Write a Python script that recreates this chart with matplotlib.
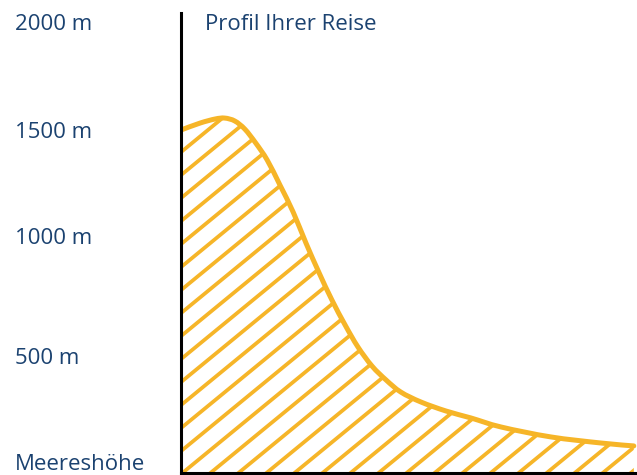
import numpy as np
import matplotlib.pyplot as plt
from matplotlib.path import Path
from matplotlib.patches import PathPatch
from matplotlib.transforms import ScaledTranslation

# profile of the trip: distance (arbitrary units) vs altitude in metres
distance = [0, 4.2, 7.5, 9.6, 11.8, 14.0, 16.4, 18.9, 21.7, 24.6, 27.4, 30.3,
            33.1, 36.0, 38.8, 41.9, 45.0, 48.2, 52.6, 58.1, 63.6, 70.2, 81.1,
            92.1, 99.3]
altitude = [1521, 1552, 1570, 1574, 1561, 1525, 1463, 1388, 1277, 1157, 1020,
            887, 767, 656, 559, 474, 412, 359, 315, 275, 244, 204, 160, 133, 120]

tick_values = [0, 500, 1000, 1500, 2000]
tick_labels = ["Meereshöhe", "500 m", "1000 m", "1500 m", "2000 m"]
# small vertical nudges (points) so the labels sit where the original has them
label_nudge = [8, 3, 8.5, 3.5, 0]

yellow = "#F6B528"
navy = "#1B4270"

plt.rcParams['font.family'] = ['Open Sans', 'DejaVu Sans']


def smooth_path(xs, ys, closed_bottom=False):
    # Catmull-Rom through the points, written as cubic bezier segments
    pts = np.column_stack([xs, ys]).astype(float)
    verts = [pts[0]]
    codes = [Path.MOVETO]
    n = len(pts)
    for i in range(n - 1):
        p0 = pts[max(i - 1, 0)]
        p1 = pts[i]
        p2 = pts[i + 1]
        p3 = pts[min(i + 2, n - 1)]
        verts += [p1 + (p2 - p0) / 6, p2 - (p3 - p1) / 6, p2]
        codes += [Path.CURVE4] * 3
    if closed_bottom:
        verts += [(xs[-1], 0), (xs[0], 0), pts[0]]
        codes += [Path.LINETO, Path.LINETO, Path.CLOSEPOLY]
    return Path(verts, codes)


fig = plt.figure(figsize=(6.37, 4.75), dpi=100)
ax = fig.add_axes([181 / 637, 2 / 475, 456 / 637, 460 / 475])
ax.set_xlim(0, 100)
ax.set_ylim(0, 2040)

# area under the curve, used to clip the hatch lines
area = PathPatch(smooth_path(distance, altitude, closed_bottom=True),
                 facecolor="none", edgecolor="none", transform=ax.transData)
ax.add_patch(area)

# diagonal hatching
slope = 16.6
for b in np.arange(1423 - 102 * 40, 1600, 102):
    ln, = ax.plot([0, 100], [b, b + slope * 100], color=yellow, lw=2.7,
                  solid_capstyle="butt")
    ln.set_clip_path(area)

ax.add_patch(PathPatch(smooth_path(distance, altitude), facecolor="none",
                       edgecolor=yellow, lw=3.6, capstyle="round",
                       joinstyle="round"))

for s in ["top", "right"]:
    ax.spines[s].set_visible(False)
ax.spines["left"].set_linewidth(2.2)
ax.spines["bottom"].set_linewidth(2.2)

ax.set_xticks([])
ax.set_yticks(tick_values)
ax.set_yticklabels(tick_labels, fontsize=16, color=navy, ha="left")
ax.tick_params(axis="y", length=0, pad=119.5)
for lab, dy in zip(ax.get_yticklabels(), label_nudge):
    lab.set_transform(lab.get_transform()
                      + ScaledTranslation(0, dy / 72, fig.dpi_scale_trans))

ax.text(0.052, 0.975, "Profil Ihrer Reise", transform=ax.transAxes,
        fontsize=16, color=navy, va="center", ha="left")

fig.savefig("out.png", dpi=100)
